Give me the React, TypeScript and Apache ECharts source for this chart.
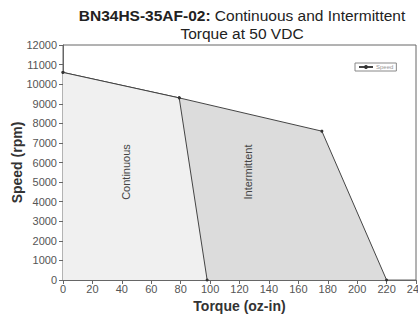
import React, { useEffect, useRef } from "react";
import * as echarts from "echarts";

const speedTorque = [0, 79, 176, 220];
const speedValues = [10600, 9300, 7600, 0];
const contTorque = [0, 79, 98];
const contValues = [10600, 9300, 0];
const yTicks = { min: 0, max: 12000, interval: 1000 };
const xTicks = { min: 0, max: 240, interval: 20 };

export default function App() {
  const ref = useRef<HTMLDivElement>(null);
  useEffect(() => {
    const chart = echarts.init(ref.current!, null, { renderer: "svg" });
    const font = "Liberation Sans, Arial, sans-serif";
    chart.setOption({
      animation: false,
      backgroundColor: "#fff",
      textStyle: { fontFamily: font },
      grid: { left: 63, right: 2, top: 45, bottom: 37, containLabel: false, outerBoundsMode: "none", show: true, borderColor: "#666", borderWidth: 1, backgroundColor: "transparent" },
      graphic: [
        {
          type: "text",
          x: 242,
          y: 6,
          z: 100,
          style: {
            text: "{b|BN34HS-35AF-02:} Continuous and Intermittent\nTorque at 50 VDC",
            fontFamily: font,
            fontSize: 15.5,
            fill: "#222",
            align: "center",
            lineHeight: 18,
            rich: { b: { fontWeight: "bold", fontSize: 15.5, fill: "#222", fontFamily: font } },
          },
        },
        {
          type: "text",
          x: 126,
          y: 172,
          z: 100,
          rotation: Math.PI / 2,
          style: { text: "Continuous", fontFamily: font, fontSize: 11, fill: "#444", align: "center", verticalAlign: "middle" },
        },
        {
          type: "text",
          x: 248,
          y: 172,
          z: 100,
          rotation: Math.PI / 2,
          style: { text: "Intermittent", fontFamily: font, fontSize: 11, fill: "#444", align: "center", verticalAlign: "middle" },
        },
      ],
      legend: {
        data: ["Speed"],
        left: 355,
        top: 63,
        orient: "vertical",
        borderColor: "#888",
        borderWidth: 1,
        padding: [1, 3],
        itemWidth: 14,
        itemHeight: 5,
        itemGap: 0,
        textStyle: { fontSize: 6, color: "#999", fontFamily: font, padding: [0, 0, 0, -2] },
      },
      xAxis: {
        type: "value",
        ...xTicks,
        name: "Torque (oz-in)",
        nameLocation: "middle",
        nameGap: 19,
        nameTextStyle: { fontWeight: "bold", fontSize: 14, color: "#333", fontFamily: font },
        axisLine: { lineStyle: { color: "#666" } },
        axisTick: { show: true, length: 4, lineStyle: { color: "#666" } },
        axisLabel: { fontSize: 11, color: "#555", margin: 3, fontFamily: font },
        splitLine: { show: false },
      },
      yAxis: {
        type: "value",
        ...yTicks,
        name: "Speed (rpm)",
        nameLocation: "middle",
        nameGap: 39,
        nameMoveOverlap: false,
        nameTextStyle: { fontWeight: "bold", fontSize: 14, color: "#333", fontFamily: font },
        axisLine: { show: true, lineStyle: { color: "#666" } },
        axisTick: { show: true, length: 4, lineStyle: { color: "#666" } },
        axisLabel: { fontSize: 11, color: "#555", margin: 6, fontFamily: font, formatter: (v: number) => String(v) },
        splitLine: { show: false },
      },
      series: [
        {
          name: "Speed",
          type: "line",
          data: speedTorque.map((t, i) => [t, speedValues[i]]),
          symbol: "circle",
          symbolSize: 3,
          itemStyle: { color: "#333" },
          lineStyle: { color: "#444", width: 1 },
          areaStyle: { color: "#dcdcdc", opacity: 1 },
          z: 2,
        },
        {
          name: "Continuous",
          type: "line",
          data: contTorque.map((t, i) => [t, contValues[i]]),
          symbol: "circle",
          symbolSize: 3,
          itemStyle: { color: "#333" },
          lineStyle: { color: "#444", width: 1 },
          areaStyle: { color: "#f0f0f0", opacity: 1 },
          z: 3,
        },
      ],
    });
    return () => chart.dispose();
  }, []);
  return <div ref={ref} style={{ width: 418, height: 317, position: "absolute", left: 0, top: 0 }} />;
}
